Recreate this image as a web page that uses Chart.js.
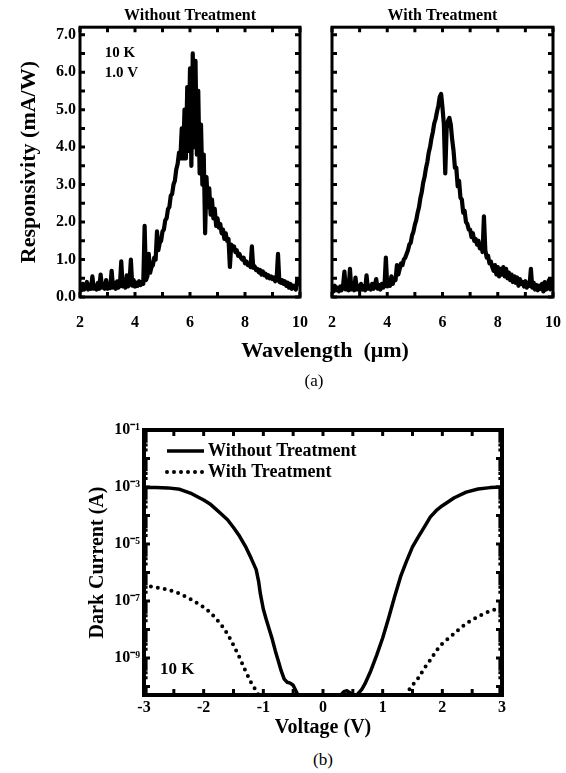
<!DOCTYPE html>
<html>
<head>
<meta charset="utf-8">
<title>Responsivity and dark current</title>
<script src="https://cdn.jsdelivr.net/npm/chart.js@4.4.1/dist/chart.umd.min.js"></script>
<style>
  html, body { margin: 0; padding: 0; background: #fff; }
  #page { position: relative; width: 566px; height: 773px; overflow: hidden; color: #000;
          font-family: 'Liberation Serif', 'Times New Roman', serif; }
  .box { position: absolute; }
  .lbl { position: absolute; text-align: center; white-space: pre; }
</style>
</head>
<body>
<div id="page">
  <div class="box" style="left:0;top:0;width:315px;height:340px"><canvas id="specWithout"></canvas></div>
  <div class="box" style="left:300px;top:0;width:266px;height:340px"><canvas id="specWith"></canvas></div>
  <div class="lbl" style="left:125px;top:337px;width:400px;font:bold 22px/26px 'Liberation Serif',serif;">Wavelength  (μm)</div>
  <div class="lbl" style="left:264px;top:372px;width:100px;font:17px/18px 'Liberation Serif',serif;">(a)</div>
  <div class="box" style="left:0;top:400px;width:566px;height:345px"><canvas id="darkCurrent"></canvas></div>
  <div class="lbl" style="left:273px;top:751px;width:100px;font:17px/18px 'Liberation Serif',serif;">(b)</div>
</div>

<script>
// ── (a) spectral responsivity ──────────────────────────────
const wavelength = [
  2.00, 2.05, 2.10, 2.15, 2.20, 2.25, 2.30, 2.35, 2.40, 2.45,
  2.50, 2.55, 2.60, 2.65, 2.70, 2.75, 2.80, 2.85, 2.90, 2.95,
  3.00, 3.05, 3.10, 3.15, 3.20, 3.25, 3.30, 3.35, 3.40, 3.45,
  3.50, 3.55, 3.60, 3.65, 3.70, 3.75, 3.80, 3.85, 3.90, 3.95,
  4.00, 4.05, 4.10, 4.15, 4.20, 4.25, 4.30, 4.35, 4.40, 4.45,
  4.50, 4.55, 4.60, 4.65, 4.70, 4.75, 4.80, 4.85, 4.90, 4.95,
  5.00, 5.05, 5.10, 5.15, 5.20, 5.25, 5.30, 5.35, 5.40, 5.45,
  5.50, 5.55, 5.60, 5.65, 5.70, 5.75, 5.80, 5.85, 5.90, 5.95,
  6.00, 6.05, 6.10, 6.15, 6.20, 6.25, 6.30, 6.35, 6.40, 6.45,
  6.50, 6.55, 6.60, 6.65, 6.70, 6.75, 6.80, 6.85, 6.90, 6.95,
  7.00, 7.05, 7.10, 7.15, 7.20, 7.25, 7.30, 7.35, 7.40, 7.45,
  7.50, 7.55, 7.60, 7.65, 7.70, 7.75, 7.80, 7.85, 7.90, 7.95,
  8.00, 8.05, 8.10, 8.15, 8.20, 8.25, 8.30, 8.35, 8.40, 8.45,
  8.50, 8.55, 8.60, 8.65, 8.70, 8.75, 8.80, 8.85, 8.90, 8.95,
  9.00, 9.05, 9.10, 9.15, 9.20, 9.25, 9.30, 9.35, 9.40, 9.45,
  9.50, 9.55, 9.60, 9.65, 9.70, 9.75, 9.80, 9.85, 9.90, 9.95,
  10.00
];

// mA/W, without treatment (noisy, tall peak near 6.1 um)
const respWithout = [
  0.30, 0.18, 0.35, 0.20, 0.28, 0.40, 0.20, 0.32, 0.22, 0.55,
  0.22, 0.30, 0.20, 0.38, 0.22, 0.60, 0.25, 0.35, 0.22, 0.45,
  0.22, 0.32, 0.24, 0.70, 0.25, 0.38, 0.22, 0.42, 0.25, 0.30,
  0.95, 0.28, 0.40, 0.25, 0.58, 0.28, 0.40, 1.00, 0.30, 0.45,
  0.28, 0.38, 0.30, 0.42, 0.32, 0.40, 0.35, 1.90, 0.45, 0.55,
  1.15, 0.65, 0.80, 0.85, 1.05, 1.00, 1.75, 1.25, 1.45, 1.50,
  1.75, 1.80, 2.05, 2.10, 2.35, 2.40, 2.70, 2.75, 3.00, 3.10,
  3.40, 3.55, 3.85, 3.70, 4.50, 3.70, 5.00, 3.70, 5.60, 3.90,
  6.10, 3.50, 6.50, 4.00, 6.30, 3.80, 5.50, 3.30, 4.60, 3.00,
  3.80, 1.70, 3.20, 2.40, 2.90, 2.20, 2.60, 2.10, 2.35, 1.90,
  2.10, 1.85, 1.95, 1.70, 1.80, 1.55, 1.70, 1.50, 1.55, 0.80,
  1.40, 1.30, 1.35, 1.20, 1.25, 1.10, 1.15, 1.05, 1.00, 1.05,
  0.90, 0.95, 0.85, 0.90, 0.80, 1.35, 0.78, 0.82, 0.72, 0.75,
  0.66, 0.72, 0.60, 0.68, 0.58, 0.62, 0.52, 0.58, 0.50, 0.55,
  0.48, 0.52, 0.42, 0.48, 1.15, 0.40, 0.38, 0.45, 0.35, 0.42,
  0.30, 0.38, 0.25, 0.35, 0.22, 0.30, 0.28, 0.20, 0.45, 0.35,
  0.40
];

// mA/W, with treatment (smoother, double top near 6.0 um)
const respWith = [
  0.28, 0.15, 0.30, 0.18, 0.25, 0.15, 0.28, 0.18, 0.30, 0.68,
  0.20, 0.30, 0.18, 0.75, 0.20, 0.32, 0.18, 0.52, 0.20, 0.30,
  0.18, 0.35, 0.20, 0.28, 0.18, 0.58, 0.22, 0.30, 0.20, 0.35,
  0.22, 0.30, 0.48, 0.22, 0.32, 0.20, 0.35, 0.25, 0.30, 1.05,
  0.28, 0.35, 0.30, 0.55, 0.35, 0.50, 0.45, 0.85, 0.60, 0.75,
  0.90, 0.85, 1.00, 1.05, 1.15, 1.25, 1.40, 1.45, 1.65, 1.75,
  1.93, 2.05, 2.25, 2.40, 2.64, 2.80, 3.05, 3.20, 3.43, 3.60,
  3.85, 4.00, 4.23, 4.40, 4.63, 4.75, 4.94, 5.10, 5.34, 5.42,
  5.05, 4.60, 3.30, 4.50, 4.70, 4.78, 4.60, 4.20, 3.90, 3.45,
  3.45, 2.95, 3.10, 2.65, 2.60, 2.25, 2.30, 2.00, 1.95, 1.80,
  1.80, 1.60, 1.70, 1.50, 1.55, 1.40, 1.50, 1.30, 1.40, 1.20,
  2.15, 1.25, 1.05, 1.10, 0.90, 0.95, 0.80, 0.70, 0.85, 0.60,
  0.80, 0.55, 0.75, 0.60, 0.80, 0.55, 0.75, 0.50, 0.65, 0.45,
  0.60, 0.40, 0.55, 0.38, 0.52, 0.30, 0.48, 0.35, 0.40, 0.28,
  0.42, 0.25, 0.38, 0.30, 0.75, 0.25, 0.38, 0.20, 0.32, 0.18,
  0.30, 0.22, 0.35, 0.15, 0.40, 0.20, 0.30, 0.45, 0.20, 0.45,
  0.50
];

const wlTicks = [2, 4, 6, 8, 10];
const wlMinor = [2, 3, 4, 5, 6, 7, 8, 9, 10];
const respTicks = [0, 1, 2, 3, 4, 5, 6, 7];
const respLabels = ['0.0', '1.0', '2.0', '3.0', '4.0', '5.0', '6.0', '7.0'];
const respMinor = [0, 0.5, 1, 1.5, 2, 2.5, 3, 3.5, 4, 4.5, 5, 5.5, 6, 6.5, 7];

// ── (b) dark current vs bias at 10 K ──────────────────────
const voltWithout = [
  -3.0, -2.8, -2.6, -2.4, -2.2, -2.0, -1.9, -1.8, -1.7, -1.6,
  -1.5, -1.4, -1.3, -1.2, -1.12, -1.08, -1.05, -1.0, -0.95, -0.9,
  -0.85, -0.8, -0.75, -0.7, -0.65, -0.6, -0.55, -0.5, -0.42, 0.0,
  0.3, 0.35, 0.4, 0.45, 0.5, 0.57, 0.65, 0.7, 0.8, 0.9,
  1.0, 1.1, 1.2, 1.3, 1.4, 1.5, 1.6, 1.7, 1.8, 1.9,
  2.0, 2.2, 2.4, 2.6, 2.8, 3.0
];
const currentWithout = [
  9.5e-4, 9.5e-4, 9.3e-4, 8.3e-4, 5.8e-4, 3.5e-4, 2.6e-4, 1.7e-4, 1.1e-4, 7.1e-5,
  3.8e-5, 1.9e-5, 8.3e-6, 3.0e-6, 1.26e-6, 5.0e-7, 1.8e-7, 5.1e-8, 2.2e-8, 1.0e-8,
  4.5e-9, 1.8e-9, 7.9e-10, 3.5e-10, 1.8e-10, 1.4e-10, 1.3e-10, 1.1e-10, 5.0e-11, 5.0e-11,
  5.0e-11, 6.6e-11, 7.1e-11, 6.0e-11, 5.0e-11, 5.0e-11, 7.9e-11, 1.2e-10, 3.5e-10, 1.26e-9,
  5.0e-9, 2.5e-8, 1.4e-7, 7.1e-7, 2.5e-6, 7.9e-6, 1.8e-5, 4.0e-5, 8.9e-5, 1.5e-4,
  2.2e-4, 4.2e-4, 6.6e-4, 8.5e-4, 9.5e-4, 1.0e-3
];

// null splits the two branches of the dotted curve
const voltWith = [
  -3.0, -2.8, -2.6, -2.4, -2.2, -2.0, -1.9, -1.8, -1.7, -1.6,
  -1.5, -1.4, -1.3, -1.2, -1.12, -1.08, 0.0,
  1.38, 1.5, 1.6, 1.7, 1.8, 1.9, 2.0, 2.1, 2.2,
  2.3, 2.4, 2.5, 2.6, 2.7, 2.8, 2.9, 3.0
];
const currentWith = [
  3.5e-7, 3.0e-7, 2.5e-7, 1.8e-7, 1.1e-7, 6.0e-8, 4.1e-8, 2.5e-8, 1.4e-8, 6.9e-9,
  2.8e-9, 1.05e-9, 3.5e-10, 1.3e-10, 7.1e-11, 5.0e-11, null,
  5.0e-11, 1.1e-10, 2.0e-10, 4.4e-10, 8.5e-10, 1.8e-9, 3.2e-9, 4.8e-9, 7.2e-9,
  1.1e-8, 1.6e-8, 2.2e-8, 2.8e-8, 3.7e-8, 4.4e-8, 5.2e-8, 6.0e-8
];

const voltTicks = [-3, -2, -1, 0, 1, 2, 3];
const voltMinor = [-3, -2.5, -2, -1.5, -1, -0.5, 0, 0.5, 1, 1.5, 2, 2.5, 3];
const currentTicks = [1e-1, 1e-3, 1e-5, 1e-7, 1e-9];
const currentLabels = ['10⁻¹', '10⁻³', '10⁻⁵', '10⁻⁷', '10⁻⁹'];

// ── shared look ───────────────────────────────────────────
const SERIF = "'Liberation Serif', 'Times New Roman', serif";
Chart.defaults.font.family = SERIF;
Chart.defaults.font.weight = 'bold';
Chart.defaults.color = '#000';
Chart.defaults.animation = false;
Chart.defaults.plugins.legend.display = false;
Chart.defaults.plugins.tooltip.enabled = false;

const pts = (xs, ys) => xs.map((v, i) => ({ x: v, y: ys[i] }));

function logSteps(scale) {
    const out = [];
    const lo = Math.floor(Math.log10(scale.min));
    const hi = Math.ceil(Math.log10(scale.max));
    for (let e = lo; e <= hi; e++) {
        for (let m = 1; m < 10; m++) {
            const v = m * Math.pow(10, e);
            if (v >= scale.min && v <= scale.max) out.push({ v, major: m === 1 });
        }
    }
    return out;
}

// closed box with inward ticks on all four sides
const frameTicks = {
    id: 'frameTicks',
    afterDatasetsDraw(chart, args, o) {
        const { ctx, chartArea: a, scales: { x, y } } = chart;
        ctx.save();
        ctx.strokeStyle = '#000';
        ctx.lineWidth = o.tickWidth;
        ctx.beginPath();
        o.xMinor.forEach(v => {
            const p = x.getPixelForValue(v);
            ctx.moveTo(p, a.bottom); ctx.lineTo(p, a.bottom - o.tickLen);
            ctx.moveTo(p, a.top); ctx.lineTo(p, a.top + o.tickLen);
        });
        const ys = o.yMinor === 'log' ? logSteps(y) : o.yMinor.map(v => ({ v, major: true }));
        ys.forEach(t => {
            const p = y.getPixelForValue(t.v);
            const len = t.major ? o.tickLen : o.tickLen * 0.6;
            ctx.moveTo(a.left, p); ctx.lineTo(a.left + len, p);
            ctx.moveTo(a.right, p); ctx.lineTo(a.right - len, p);
        });
        ctx.stroke();
        ctx.lineWidth = o.frameWidth;
        ctx.strokeRect(a.left, a.top, a.right - a.left, a.bottom - a.top);
        ctx.restore();
    }
};

// small text notes placed in data coordinates
const notes = {
    id: 'notes',
    afterDatasetsDraw(chart, args, o) {
        if (!o.items) return;
        const { ctx, scales: { x, y } } = chart;
        ctx.save();
        ctx.font = o.font;
        ctx.fillStyle = '#000';
        ctx.textAlign = 'left';
        ctx.textBaseline = 'middle';
        o.items.forEach(n => ctx.fillText(n.text, x.getPixelForValue(n.x), y.getPixelForValue(n.y)));
        ctx.restore();
    }
};

// legend drawn inside the plot, top-left
const insideLegend = {
    id: 'insideLegend',
    afterDatasetsDraw(chart, args, o) {
        const { ctx, chartArea: a } = chart;
        ctx.save();
        ctx.font = o.font;
        ctx.textBaseline = 'middle';
        chart.data.datasets.forEach((ds, i) => {
            const yy = a.top + o.top + i * o.rowGap;
            const x0 = a.left + o.left;
            ctx.strokeStyle = ds.borderColor;
            ctx.lineWidth = ds.borderWidth;
            ctx.lineCap = ds.borderCapStyle || 'butt';
            ctx.setLineDash(ds.borderDash || []);
            ctx.beginPath();
            ctx.moveTo(x0, yy);
            ctx.lineTo(x0 + o.sample, yy);
            ctx.stroke();
            ctx.setLineDash([]);
            ctx.fillStyle = '#000';
            ctx.fillText(ds.label, x0 + o.sample + o.gap, yy);
        });
        ctx.restore();
    }
};

// invisible tick marks push the x labels down without widening the side padding
const hiddenTicks = len => ({
    display: true, drawOnChartArea: false, drawTicks: true,
    tickLength: len, color: 'rgba(0,0,0,0)'
});

function spectrumChart(id, title, values, opts) {
    return new Chart(document.getElementById(id), {
        type: 'line',
        data: {
            datasets: [{
                label: title,
                data: pts(wavelength, values),
                borderColor: '#000',
                borderWidth: 4.2,
                borderJoinStyle: 'round',
                pointRadius: 0,
                tension: 0
            }]
        },
        options: {
            responsive: true,
            maintainAspectRatio: false,
            layout: { padding: { top: 0, right: opts.padRight, left: 0, bottom: 0 } },
            scales: {
                x: {
                    type: 'linear', min: 2, max: 10,
                    afterBuildTicks: s => { s.ticks = wlTicks.map(v => ({ value: v })); },
                    afterFit: s => { s.height = 43; },
                    grid: hiddenTicks(13),
                    border: { display: false },
                    ticks: { font: { size: 16, weight: 'bold' }, padding: 3, maxRotation: 0 }
                },
                y: {
                    min: 0, max: 7.2,
                    afterBuildTicks: s => { s.ticks = respTicks.map(v => ({ value: v })); },
                    afterFit: s => { s.width = opts.axisWidth; },
                    grid: { display: false, drawTicks: false },
                    border: { display: false },
                    ticks: {
                        display: opts.showY,
                        font: { size: 16, weight: 'bold' },
                        padding: 4,
                        callback: (v, i) => respLabels[i]
                    },
                    title: {
                        display: opts.showY,
                        text: 'Responsivity (mA/W)',
                        font: { size: 22, weight: 'bold' },
                        padding: { top: 16, bottom: 0 }
                    }
                }
            },
            plugins: {
                title: {
                    display: true, text: title, fullSize: false,
                    font: { size: 16, weight: 'bold' },
                    padding: { top: 6, bottom: 2 }
                },
                frameTicks: { xMinor: wlMinor, yMinor: respMinor, tickLen: 5, tickWidth: 3, frameWidth: 3 },
                notes: opts.notes
            }
        },
        plugins: [frameTicks, notes]
    });
}

spectrumChart('specWithout', 'Without Treatment', respWithout, {
    padRight: 15, axisWidth: 80, showY: true,
    notes: {
        font: 'bold 15px ' + SERIF,
        items: [{ x: 2.9, y: 6.5, text: '10 K' }, { x: 2.9, y: 5.97, text: '1.0 V' }]
    }
});
spectrumChart('specWith', 'With Treatment', respWith, {
    padRight: 13, axisWidth: 32, showY: false, notes: {}
});

new Chart(document.getElementById('darkCurrent'), {
    type: 'line',
    data: {
        datasets: [
            {
                label: 'Without Treatment',
                data: pts(voltWithout, currentWithout),
                borderColor: '#000',
                borderWidth: 3.5,
                borderJoinStyle: 'round',
                pointRadius: 0,
                tension: 0
            },
            {
                label: 'With Treatment',
                data: pts(voltWith, currentWith),
                borderColor: '#000',
                borderWidth: 4,
                borderDash: [0, 7],
                borderCapStyle: 'round',
                pointRadius: 0,
                spanGaps: false,
                tension: 0
            }
        ]
    },
    options: {
        responsive: true,
        maintainAspectRatio: false,
        layout: { padding: { top: 30, right: 64, left: 0, bottom: 0 } },
        scales: {
            x: {
                type: 'linear', min: -3, max: 3,
                afterBuildTicks: s => { s.ticks = voltTicks.map(v => ({ value: v })); },
                afterFit: s => { s.height = 50; },
                grid: { display: false, drawTicks: false },
                border: { display: false },
                ticks: { font: { size: 16, weight: 'bold' }, padding: 3, maxRotation: 0 },
                title: {
                    display: true, text: 'Voltage (V)',
                    font: { size: 20, weight: 'bold' },
                    padding: { top: 0, bottom: 5 }
                }
            },
            y: {
                type: 'logarithmic', min: 5e-11, max: 1e-1,
                afterBuildTicks: s => { s.ticks = currentTicks.map(v => ({ value: v })); },
                afterFit: s => { s.width = 144; },
                grid: { display: false, drawTicks: false },
                border: { display: false },
                ticks: {
                    font: { size: 16, weight: 'bold' },
                    padding: 4,
                    callback: (v, i) => currentLabels[i]
                },
                title: {
                    display: true, text: 'Dark Current (A)',
                    font: { size: 20, weight: 'bold' },
                    padding: { top: 86, bottom: 0 }
                }
            }
        },
        plugins: {
            frameTicks: { xMinor: voltMinor, yMinor: 'log', tickLen: 6, tickWidth: 3, frameWidth: 4 },
            notes: { font: 'bold 17px ' + SERIF, items: [{ x: -2.73, y: 3.8e-10, text: '10 K' }] },
            insideLegend: { font: 'bold 18px ' + SERIF, left: 23, top: 21, rowGap: 21, sample: 37, gap: 4 }
        }
    },
    plugins: [frameTicks, notes, insideLegend]
});
</script>
</body>
</html>
